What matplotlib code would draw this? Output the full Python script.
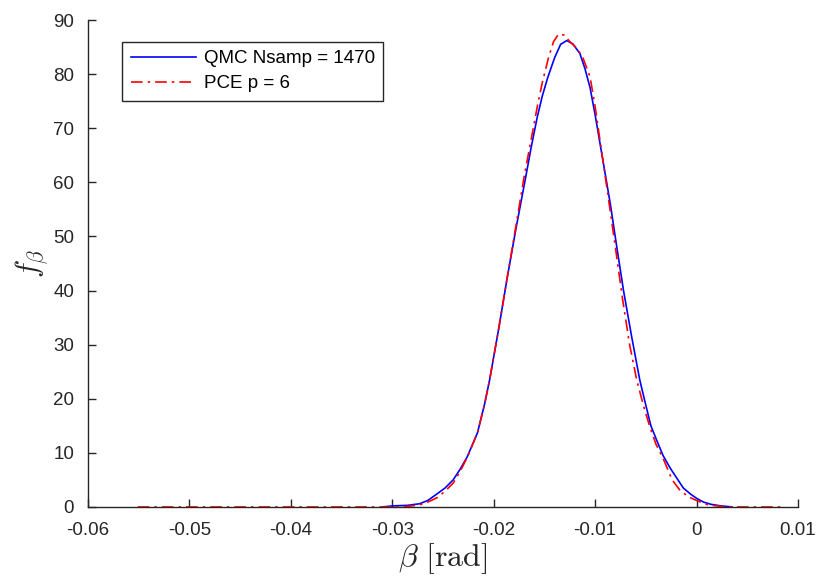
import numpy as np
import matplotlib.pyplot as plt

plt.rcParams['mathtext.fontset'] = 'cm'
plt.rcParams['font.family'] = ['Liberation Sans', 'DejaVu Sans']

# QMC density estimate
qmc_beta = [-0.0310, -0.0300, -0.0285, -0.0273, -0.0265, -0.0256, -0.0248, -0.0240,
            -0.0233, -0.0226, -0.0216, -0.0209, -0.0204, -0.0195, -0.0187, -0.0178,
            -0.0169, -0.0163, -0.0157, -0.0152, -0.0147, -0.0140, -0.0134, -0.0128,
            -0.0122, -0.0115, -0.0110, -0.0105, -0.0100, -0.0095, -0.0090, -0.0085,
            -0.0079, -0.0072, -0.0064, -0.0056, -0.0050, -0.0045, -0.0039, -0.0033,
            -0.0026, -0.0019, -0.0013, -0.0006, 0.0000, 0.0007, 0.0014, 0.0024, 0.0035]
qmc_f = [0.0, 0.2, 0.3, 0.6, 1.2, 2.4, 3.5, 5.0,
         7.0, 9.3, 13.7, 19.0, 23.5, 33.0, 42.0, 51.5,
         60.4, 66.5, 72.1, 76.0, 79.2, 83.0, 85.5, 86.2,
         85.6, 83.8, 81.0, 77.5, 72.5, 67.0, 61.5, 56.0,
         48.5, 40.0, 31.5, 23.5, 18.8, 15.0, 12.2, 9.5,
         7.2, 5.2, 3.5, 2.4, 1.6, 0.9, 0.5, 0.2, 0.0]

# PCE density estimate
pce_beta = [-0.0551, -0.0300, -0.0285, -0.0273, -0.0265, -0.0256, -0.0248, -0.0240,
            -0.0233, -0.0226, -0.0216, -0.0209, -0.0204, -0.0195, -0.0187, -0.0178,
            -0.0170, -0.0163, -0.0157, -0.0152, -0.0146, -0.0141, -0.0136, -0.0130,
            -0.0125, -0.0118, -0.0112, -0.0105, -0.0100, -0.0095, -0.0088, -0.0080,
            -0.0073, -0.0066, -0.0059, -0.0052, -0.0046, -0.0040, -0.0033, -0.0024,
            -0.0016, -0.0007, 0.0000, 0.0011, 0.0025, 0.0040, 0.0087]
pce_f = [0.0, 0.0, 0.1, 0.4, 0.9, 1.7, 2.9, 4.4,
         6.6, 9.2, 13.7, 19.0, 23.5, 33.0, 42.0, 52.0,
         61.0, 68.0, 74.0, 78.5, 83.0, 86.0, 87.4, 87.2,
         86.0, 84.8, 83.0, 79.5, 74.0, 67.5, 58.5, 48.0,
         38.5, 30.0, 23.5, 18.5, 14.8, 11.6, 9.0, 5.0,
         3.0, 1.8, 1.2, 0.4, 0.1, 0.0, 0.0]

xticks = [-0.06, -0.05, -0.04, -0.03, -0.02, -0.01, 0, 0.01]
xticklabels = ['-0.06', '-0.05', '-0.04', '-0.03', '-0.02', '-0.01', '0', '0.01']
yticks = [0, 10, 20, 30, 40, 50, 60, 70, 80, 90]

fig = plt.figure(figsize=(8.17, 5.80), dpi=100)
ax = fig.add_axes([0.1077, 0.1259, 0.869, 0.8396])

ax.plot(qmc_beta, qmc_f, color='#0000ff', lw=1.2, label='QMC Nsamp = 1470')
ax.plot(pce_beta, pce_f, color='#ff0000', lw=1.2, ls=(0, (7, 3, 1.5, 3)), label='PCE p = 6')

ax.set_xlim(-0.06, 0.01)
ax.set_ylim(0, 90)
ax.set_xticks(xticks)
ax.set_xticklabels(xticklabels)
ax.set_yticks(yticks)

for s in ['top', 'right']:
    ax.spines[s].set_visible(False)
for s in ['left', 'bottom']:
    ax.spines[s].set_color('#262626')
    ax.spines[s].set_linewidth(1.0)
ax.tick_params(direction='in', length=6, width=1.0, color='#262626',
               labelsize=13.5, labelcolor='#262626')
ax.tick_params(axis='x', pad=11)
ax.tick_params(axis='y', pad=10)

ax.set_xlabel(r'$\beta\ \mathrm{[rad]}$', fontsize=23, color='#262626', labelpad=1)
ax.set_ylabel(r'$f_\beta$', fontsize=22, color='#262626', labelpad=2)

leg = ax.legend(loc='upper left', bbox_to_anchor=(0.048, 0.955), fontsize=13.5,
                handlelength=3.5, fancybox=False, framealpha=1, borderpad=0.45,
                labelspacing=0.4, handletextpad=0.4, borderaxespad=0)
leg.get_frame().set_edgecolor('#262626')
leg.get_frame().set_linewidth(1.0)

plt.savefig('out.png', dpi=100)
